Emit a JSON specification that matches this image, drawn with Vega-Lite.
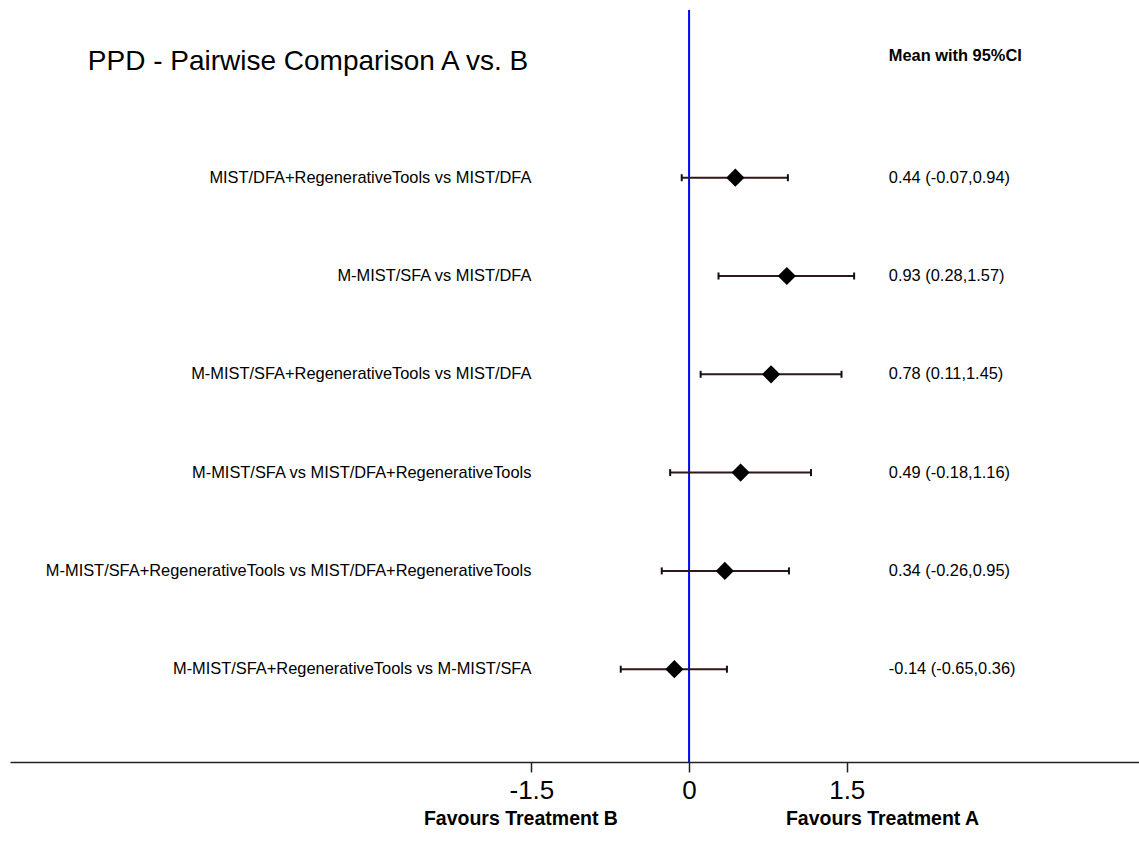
{
  "$schema": "https://vega.github.io/schema/vega-lite/v6.json",
  "width": 1129,
  "height": 752,
  "autosize": {"type": "none"},
  "padding": {"left": 10, "top": 10, "right": 0, "bottom": 79},
  "background": "white",
  "config": {"view": {"stroke": null}, "font": "Liberation Sans"},
  "data": {
    "values": [
      {"comparison": "MIST/DFA+RegenerativeTools vs MIST/DFA", "row": 1, "mean": 0.44, "lo": -0.07, "hi": 0.94, "ci": "0.44 (-0.07,0.94)"},
      {"comparison": "M-MIST/SFA vs MIST/DFA", "row": 2, "mean": 0.93, "lo": 0.28, "hi": 1.57, "ci": "0.93 (0.28,1.57)"},
      {"comparison": "M-MIST/SFA+RegenerativeTools vs MIST/DFA", "row": 3, "mean": 0.78, "lo": 0.11, "hi": 1.45, "ci": "0.78 (0.11,1.45)"},
      {"comparison": "M-MIST/SFA vs MIST/DFA+RegenerativeTools", "row": 4, "mean": 0.49, "lo": -0.18, "hi": 1.16, "ci": "0.49 (-0.18,1.16)"},
      {"comparison": "M-MIST/SFA+RegenerativeTools vs MIST/DFA+RegenerativeTools", "row": 5, "mean": 0.34, "lo": -0.26, "hi": 0.95, "ci": "0.34 (-0.26,0.95)"},
      {"comparison": "M-MIST/SFA+RegenerativeTools vs M-MIST/SFA", "row": 6, "mean": -0.14, "lo": -0.65, "hi": 0.36, "ci": "-0.14 (-0.65,0.36)"}
    ]
  },
  "layer": [
    {
      "transform": [{"filter": "datum.row == 1"}],
      "mark": {"type": "rule", "color": "#0000ff", "strokeWidth": 2},
      "encoding": {
        "x": {
          "datum": 0,
          "type": "quantitative",
          "scale": {"domain": [-6.46, 4.28], "nice": false, "zero": false},
          "axis": {
            "title": null,
            "values": [-1.5, 0, 1.5],
            "labelExpr": "datum.value < 0 ? '-' + format(-datum.value, '.1f') : (datum.value == 0 ? '0' : format(datum.value, '.1f'))",
            "grid": false,
            "ticks": true,
            "domainColor": "#222222",
            "domainWidth": 1.5,
            "tickColor": "#222222",
            "tickWidth": 1.5,
            "tickSize": 10,
            "labelFontSize": 26,
            "labelColor": "black",
            "labelPadding": 5,
            "labelFont": "Liberation Sans"
          }
        }
      }
    },
    {
      "mark": {"type": "rule", "color": "#2e1818", "strokeWidth": 2},
      "encoding": {
        "x": {"field": "lo", "type": "quantitative", "title": null},
        "x2": {"field": "hi"},
        "y": {"field": "row", "type": "quantitative", "scale": {"domain": [-0.706, 6.944], "reverse": true, "nice": false, "zero": false}, "axis": null}
      }
    },
    {
      "mark": {"type": "tick", "orient": "vertical", "size": 7, "thickness": 2, "color": "#111111", "opacity": 1},
      "encoding": {
        "x": {"field": "lo", "type": "quantitative", "title": null},
        "y": {"field": "row", "type": "quantitative", "axis": null}
      }
    },
    {
      "mark": {"type": "tick", "orient": "vertical", "size": 7, "thickness": 2, "color": "#111111", "opacity": 1},
      "encoding": {
        "x": {"field": "hi", "type": "quantitative", "title": null},
        "y": {"field": "row", "type": "quantitative", "axis": null}
      }
    },
    {
      "mark": {"type": "point", "shape": "diamond", "filled": true, "size": 330, "color": "black", "opacity": 1},
      "encoding": {
        "x": {"field": "mean", "type": "quantitative", "title": null},
        "y": {"field": "row", "type": "quantitative", "axis": null}
      }
    },
    {
      "mark": {"type": "text", "align": "right", "baseline": "middle", "fontSize": 16.4, "color": "black"},
      "encoding": {
        "x": {"datum": -1.5, "type": "quantitative", "title": null},
        "y": {"field": "row", "type": "quantitative", "axis": null},
        "text": {"field": "comparison"}
      }
    },
    {
      "mark": {"type": "text", "align": "left", "baseline": "middle", "fontSize": 16.4, "color": "black"},
      "encoding": {
        "x": {"datum": 1.9, "type": "quantitative", "title": null},
        "y": {"field": "row", "type": "quantitative", "axis": null},
        "text": {"field": "ci"}
      }
    },
    {
      "transform": [{"filter": "datum.row == 1"}],
      "mark": {"type": "text", "align": "left", "baseline": "alphabetic", "fontSize": 28, "color": "black"},
      "encoding": {
        "x": {"datum": -5.72, "type": "quantitative", "title": null},
        "y": {"datum": -0.096, "type": "quantitative", "axis": null},
        "text": {"value": "PPD - Pairwise Comparison A vs. B"}
      }
    },
    {
      "transform": [{"filter": "datum.row == 1"}],
      "mark": {"type": "text", "align": "left", "baseline": "middle", "fontSize": 16.4, "fontWeight": "bold", "color": "black"},
      "encoding": {
        "x": {"datum": 1.9, "type": "quantitative", "title": null},
        "y": {"datum": -0.238, "type": "quantitative", "axis": null},
        "text": {"value": "Mean with 95%CI"}
      }
    },
    {
      "transform": [{"filter": "datum.row == 1"}],
      "mark": {"type": "text", "align": "center", "baseline": "middle", "fontSize": 19.5, "fontWeight": "bold", "color": "black"},
      "encoding": {
        "x": {"datum": -1.6, "type": "quantitative", "title": null},
        "y": {"datum": 7.52, "type": "quantitative", "axis": null},
        "text": {"value": "Favours Treatment B"}
      }
    },
    {
      "transform": [{"filter": "datum.row == 1"}],
      "mark": {"type": "text", "align": "center", "baseline": "middle", "fontSize": 19.5, "fontWeight": "bold", "color": "black"},
      "encoding": {
        "x": {"datum": 1.84, "type": "quantitative", "title": null},
        "y": {"datum": 7.52, "type": "quantitative", "axis": null},
        "text": {"value": "Favours Treatment A"}
      }
    }
  ]
}
